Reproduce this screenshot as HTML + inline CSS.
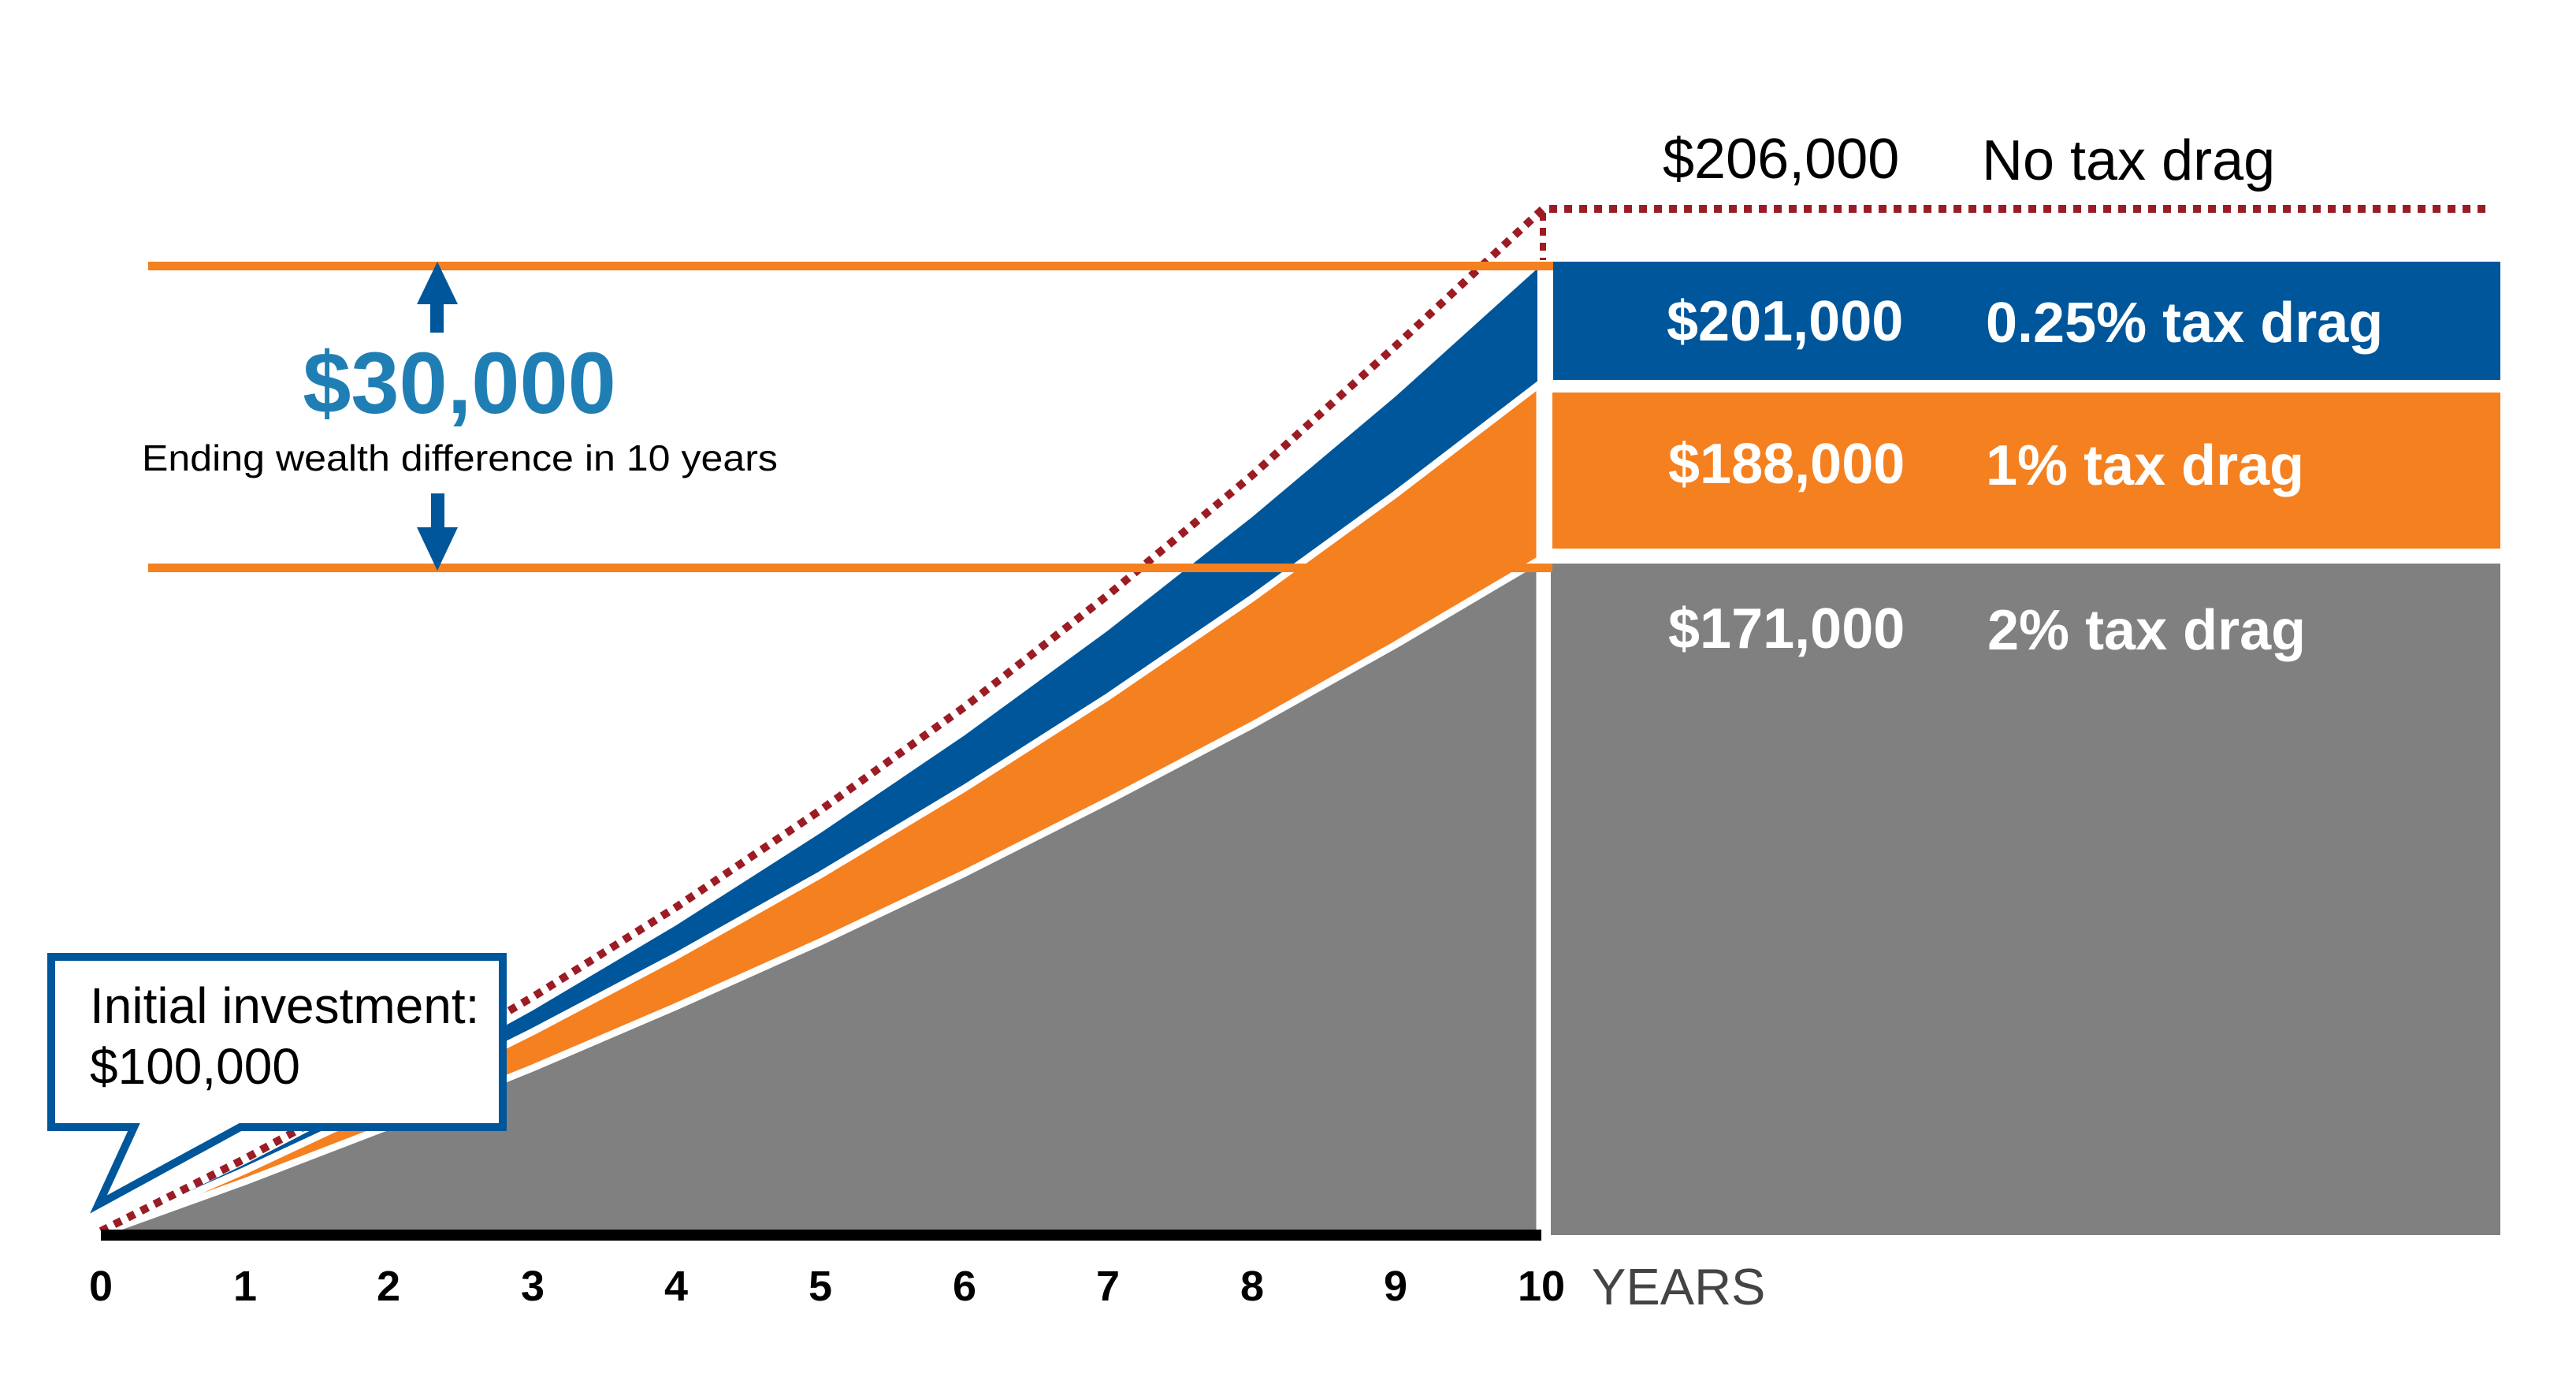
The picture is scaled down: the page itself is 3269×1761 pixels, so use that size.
<!DOCTYPE html>
<html><head><meta charset="utf-8"><style>
html,body{margin:0;padding:0;background:#fff;}
svg{display:block;}
text{font-family:"Liberation Sans",Arial,sans-serif;}
</style></head><body>
<svg width="3269" height="1761" viewBox="0 0 3269 1761" xmlns="http://www.w3.org/2000/svg">
<defs><clipPath id="c"><rect x="0" y="0" width="1951" height="1561"/></clipPath></defs>
<g clip-path="url(#c)">
<!-- blue area -->
<path d="M128,1565 L311,1477 L493,1383 L676,1282 L858,1174 L1041,1057 L1224,933 L1406,800 L1589,656 L1771,503 L1954,338 L1954,1565 Z" fill="#00569a"/>
<!-- orange area -->
<path d="M128,1565 L311,1485 L493,1400 L676,1309 L858,1213 L1041,1110 L1224,1000 L1406,884 L1589,759 L1771,627 L1954,487 L1954,1565 Z" fill="#f58020" stroke="#fff" stroke-width="9" stroke-linejoin="round"/>
<!-- gray area -->
<path d="M128,1565 L311,1499 L493,1429 L676,1355 L858,1277 L1041,1195 L1224,1108 L1406,1016 L1589,920 L1771,818 L1954,710 L1954,1565 Z" fill="#808080" stroke="#fff" stroke-width="9" stroke-linejoin="round"/>
</g>
<!-- dotted no tax drag -->
<path d="M128,1562 L311,1470 L493,1371 L676,1265 L858,1151 L1041,1028 L1224,897 L1406,755 L1589,603 L1771,439 L1958,265 L3160,265" fill="none" stroke="#9b1c24" stroke-width="10" stroke-dasharray="10,9"/>
<line x1="1958" y1="270" x2="1958" y2="330" stroke="#9b1c24" stroke-width="8" stroke-dasharray="10,9"/>
<!-- right blocks -->
<rect x="1971" y="332" width="1202" height="150" fill="#00569a"/>
<rect x="1970" y="498" width="1203" height="198" fill="#f58020"/>
<rect x="1968" y="715" width="1205" height="852" fill="#808080"/>
<!-- orange guide lines -->
<rect x="188" y="332" width="1783" height="11" fill="#f58020"/>
<rect x="188" y="715" width="1782" height="11" fill="#f58020"/>
<!-- axis -->
<rect x="128" y="1560" width="1828" height="14" fill="#000"/>
<!-- arrows -->
<rect x="546" y="380" width="17" height="42" fill="#00569a"/>
<polygon points="555,332 529,386 581,386" fill="#00569a"/>
<rect x="547" y="626" width="17" height="46" fill="#00569a"/>
<polygon points="555,724 529,669 581,669" fill="#00569a"/>
<text x="583" y="524" text-anchor="middle" font-size="110" font-weight="bold" fill="#1f7fb4">$30,000</text>
<text x="180" y="597" font-size="46" fill="#000" textLength="807" lengthAdjust="spacingAndGlyphs">Ending wealth difference in 10 years</text>
<!-- labels -->
<text x="2110" y="226" font-size="72" fill="#000">$206,000</text>
<text x="2515" y="228" font-size="72" fill="#000">No tax drag</text>
<g font-weight="bold" fill="#fff" font-size="72">
<text x="2115" y="432">$201,000</text>
<text x="2520" y="434">0.25% tax drag</text>
<text x="2117" y="613">$188,000</text>
<text x="2520" y="615">1% tax drag</text>
<text x="2117" y="822">$171,000</text>
<text x="2522" y="824">2% tax drag</text>
</g>
<!-- callout -->
<path d="M65,1214 L638,1214 L638,1430 L305,1430 L125,1528 L170,1430 L65,1430 Z" fill="#fff" stroke="#00569a" stroke-width="10" stroke-linejoin="miter"/>
<text x="114" y="1298" font-size="64" fill="#000">Initial investment:</text>
<text x="114" y="1375" font-size="64" fill="#000">$100,000</text>
<!-- ticks -->
<g font-size="54" font-weight="bold" fill="#000" text-anchor="middle">
<text x="128" y="1650">0</text><text x="311" y="1650">1</text><text x="493" y="1650">2</text><text x="676" y="1650">3</text><text x="858" y="1650">4</text><text x="1041" y="1650">5</text><text x="1224" y="1650">6</text><text x="1406" y="1650">7</text><text x="1589" y="1650">8</text><text x="1771" y="1650">9</text><text x="1956" y="1650">10</text>
</g>
<text x="2020" y="1655" font-size="65" fill="#444">YEARS</text>
</svg>
</body></html>
